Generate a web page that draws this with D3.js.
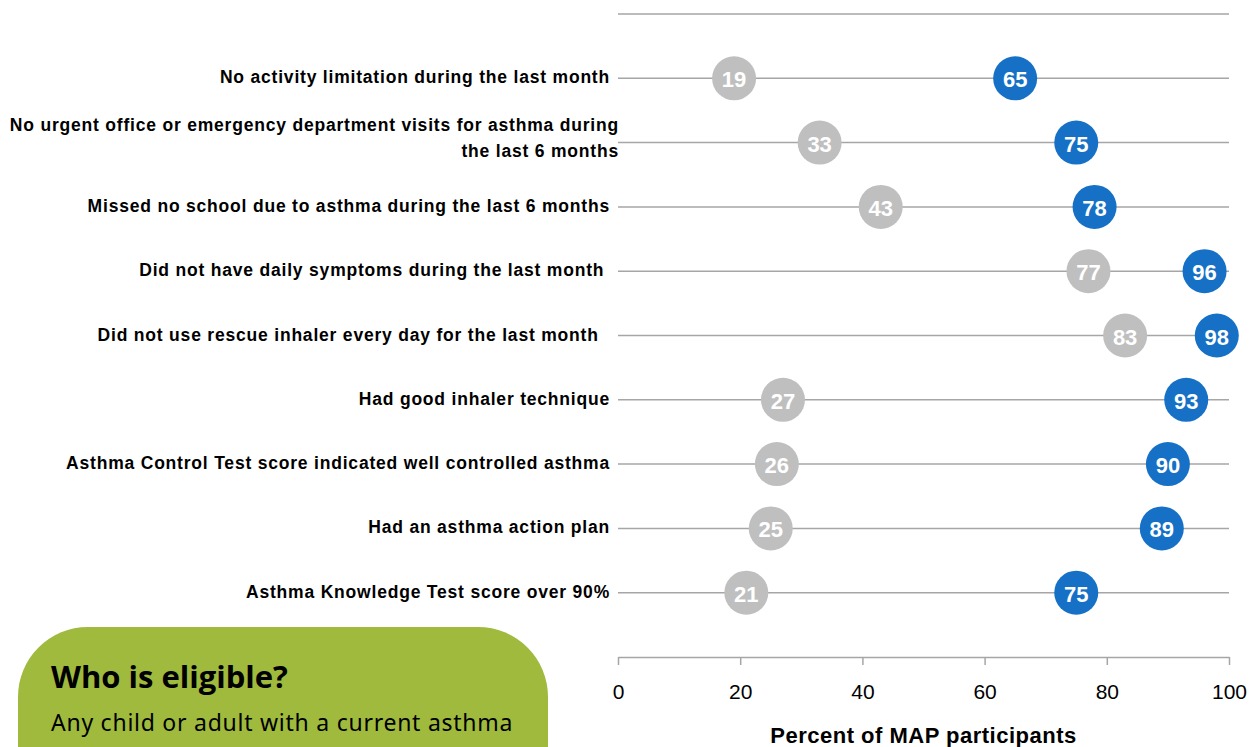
<!DOCTYPE html>
<html>
<head>
<meta charset="utf-8">
<script src="https://cdn.jsdelivr.net/npm/d3@7"></script>
<style>
  body { margin: 0; background: #fff; }
  svg { display: block; }
</style>
</head>
<body>
<svg id="chart"></svg>
<script>
// outcome labels, top to bottom
const outcomes = [
  ["No activity limitation during the last month"],
  ["No urgent office or emergency department visits for asthma during", "the last 6 months"],
  ["Missed no school due to asthma during the last 6 months"],
  ["Did not have daily symptoms during the last month "],
  ["Did not use rescue inhaler every day for the last month  "],
  ["Had good inhaler technique"],
  ["Asthma Control Test score indicated well controlled asthma"],
  ["Had an asthma action plan"],
  ["Asthma Knowledge Test score over 90%"]
];
const before = [19, 33, 43, 77, 83, 27, 26, 25, 21];
const after = [65, 75, 78, 96, 98, 93, 90, 89, 75];
const xTicks = [0, 20, 40, 60, 80, 100];

const W = 1256, H = 747;
const svg = d3.select("#chart").attr("width", W).attr("height", H);

// x: percent, y: slot index (Excel style, 0 at axis, 10 at top)
var x = d3.scaleLinear().domain([0, 100]).range([618, 1229]);
var y = d3.scaleLinear().domain([0, 10]).range([657, 14]);

// gridlines
svg.append("g")
  .selectAll("line")
  .data(d3.range(1, 11))
  .join("line")
  .attr("x1", x(0)).attr("x2", x(100))
  .attr("y1", d => y(d)).attr("y2", d => y(d))
  .attr("stroke", "#a6a6a6")
  .attr("stroke-width", 1.5);

// bottom axis
const xAxis = svg.append("g")
  .attr("transform", `translate(0,${y(0)})`)
  .call(d3.axisBottom(x).tickValues(xTicks).tickSize(8).tickSizeOuter(0).tickPadding(19));
xAxis.select(".domain").attr("stroke", "#a6a6a6").attr("stroke-width", 1.5);
xAxis.selectAll(".tick line").attr("stroke", "#a6a6a6").attr("stroke-width", 1.5);
xAxis.selectAll(".tick text")
  .attr("fill", "#000")
  .style("font-family", "'Liberation Sans', Arial, sans-serif")
  .style("font-size", "21px");

svg.append("text")
  .attr("x", x(50)).attr("y", 743)
  .attr("text-anchor", "middle")
  .style("font-family", "'Liberation Sans', Arial, sans-serif")
  .style("font-weight", "bold")
  .style("font-size", "22px")
  .style("letter-spacing", "0.5px")
  .text("Percent of MAP participants");

// row labels
const rowY = i => y(9 - i);
const labels = svg.append("g")
  .style("font-family", "'Liberation Sans', Arial, sans-serif")
  .style("font-weight", "bold")
  .style("font-size", "17.5px")
  .style("letter-spacing", "0.8px");
outcomes.forEach((lines, i) => {
  const ax = lines.length > 1 ? 619 : 610;
  const t = labels.append("text")
    .attr("x", ax)
    .attr("y", rowY(i) + 5 - (lines.length - 1) * 17)
    .attr("text-anchor", "end")
    .attr("xml:space", "preserve")
    .style("white-space", "pre");
  lines.forEach((s, j) => {
    t.append("tspan").attr("x", ax).attr("dy", j === 0 ? 0 : 26)
      .style("white-space", "pre").text(s);
  });
});

// dots
function dots(vals, fill) {
  const g = svg.append("g");
  g.selectAll("circle")
    .data(vals)
    .join("circle")
    .attr("cx", d => x(d))
    .attr("cy", (d, i) => rowY(i))
    .attr("r", 22)
    .attr("fill", fill);
  g.selectAll("text")
    .data(vals)
    .join("text")
    .attr("x", d => x(d))
    .attr("y", (d, i) => rowY(i) + 9)
    .attr("text-anchor", "middle")
    .attr("fill", "#fff")
    .style("font-family", "'Liberation Sans', Arial, sans-serif")
    .style("font-weight", "bold")
    .style("font-size", "22px")
    .text(d => d);
}
dots(before, "#bfbfbf");
dots(after, "#1570c6");

// green callout box
const box = svg.append("g");
box.append("rect")
  .attr("x", 18).attr("y", 627)
  .attr("width", 530).attr("height", 200)
  .attr("rx", 70).attr("ry", 70)
  .attr("fill", "#9fba3c");
box.append("text")
  .attr("x", 51).attr("y", 688)
  .style("font-family", "'Open Sans', sans-serif")
  .style("font-weight", "bold")
  .style("font-size", "31px")
  .attr("fill", "#000")
  .text("Who is eligible?");
box.append("text")
  .attr("x", 51).attr("y", 731)
  .style("font-family", "'Noto Sans', sans-serif")
  .style("font-size", "23px")
  .style("letter-spacing", "0.75px")
  .attr("fill", "#000")
  .text("Any child or adult with a current asthma");
</script>
</body>
</html>
